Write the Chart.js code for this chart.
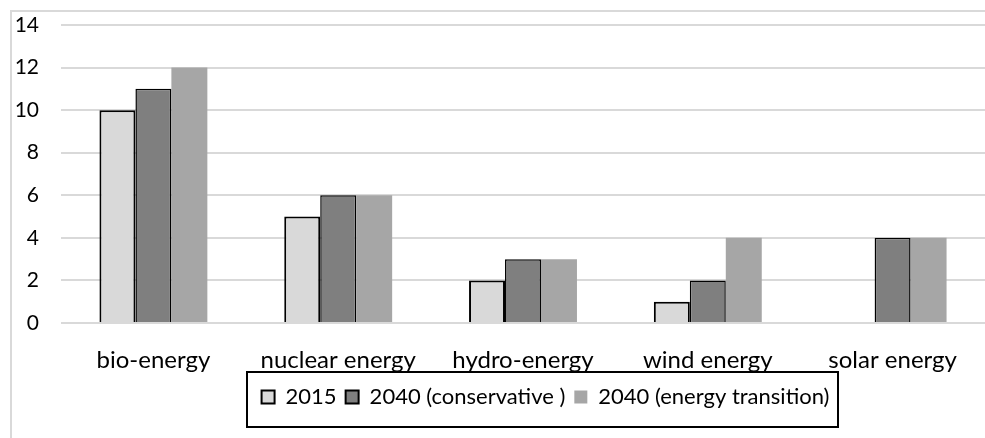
<!DOCTYPE html>
<html>
<head>
  <script src="https://cdn.jsdelivr.net/npm/chart.js@4.4.0/dist/chart.umd.min.js"></script>
  <style>
    body { margin: 0; background: #fff; }
    .chart-box { position: relative; width: 985px; height: 438px; }
  </style>
</head>
<body>
  <div class="chart-box">
    <canvas id="myChart"></canvas>
  </div>
  <script type="text/javascript">
    // data
    var categories = ['bio-energy', 'nuclear energy', 'hydro-energy', 'wind energy', 'solar energy'];
    var seriesNames = ['2015', '2040 (conservative )', '2040 (energy transition)'];
    var values2015 = [10, 5, 2, 1, 0];
    var valuesConservative = [11, 6, 3, 2, 4];
    var valuesTransition = [12, 6, 3, 4, 4];
    var yTicks = [0, 2, 4, 6, 8, 10, 12, 14];

    var font = 'Lato, "Liberation Sans", sans-serif';

    // grey frame (top + left), legend shifted right and boxed
    var framePlugin = {
      id: 'frame',
      afterLayout: function(chart) {
        chart.legend.left += 53;
        chart.legend.right += 53;
      },
      beforeDraw: function(chart) {
        var ctx = chart.ctx;
        ctx.save();
        ctx.strokeStyle = '#d9d9d9';
        ctx.lineWidth = 2;
        ctx.beginPath();
        ctx.moveTo(11, chart.height);
        ctx.lineTo(11, 11);
        ctx.lineTo(chart.width, 11);
        ctx.stroke();
        ctx.restore();
      },
      afterDraw: function(chart) {
        var boxes = chart.legend.legendHitBoxes;
        if (!boxes || !boxes.length) return;
        var left = Math.min.apply(null, boxes.map(function(b) { return b.left; }));
        var right = Math.max.apply(null, boxes.map(function(b) { return b.left + b.width; }));
        var top = boxes[0].top;
        var h = boxes[0].height;
        var ctx = chart.ctx;
        ctx.save();
        ctx.strokeStyle = '#000';
        ctx.lineWidth = 2;
        ctx.strokeRect(Math.round(left) - 15, Math.round(top) - 14, Math.round(right - left) + 23, Math.round(h) + 33);
        ctx.restore();
      }
    };

    var ctx = document.getElementById('myChart').getContext('2d');
    var chart = new Chart(ctx, {
      type: 'bar',
      data: {
        labels: categories,
        datasets: [{
            label: seriesNames[0],
            data: values2015,
            backgroundColor: '#d9d9d9',
            borderColor: '#000',
            borderWidth: 2,
            borderSkipped: 'bottom'
          },
          {
            label: seriesNames[1],
            data: valuesConservative,
            backgroundColor: '#7f7f7f',
            borderColor: '#000',
            borderWidth: 1.5,
            borderSkipped: 'bottom'
          },
          {
            label: seriesNames[2],
            data: valuesTransition,
            backgroundColor: '#a6a6a6',
            borderWidth: 0
          }
        ]
      },
      plugins: [framePlugin],
      options: {
        responsive: true,
        maintainAspectRatio: false,
        animation: false,
        layout: {
          padding: { top: 25, right: 0, bottom: 20, left: 0 }
        },
        datasets: {
          bar: { categoryPercentage: 0.584, barPercentage: 1 }
        },
        scales: {
          x: {
            grid: { display: false },
            border: { display: false },
            afterFit: function(scale) { scale.height = 54; },
            ticks: {
              color: '#000',
              font: { family: font, size: 24 },
              padding: 15,
              maxRotation: 0
            }
          },
          y: {
            min: 0,
            max: 14,
            afterBuildTicks: function(scale) {
              scale.ticks = yTicks.map(function(v) { return { value: v }; });
            },
            afterFit: function(scale) {
              scale.width = 61;
              scale.paddingTop = 0;
              scale.paddingBottom = 0;
            },
            grid: { color: '#d9d9d9', lineWidth: 2, drawTicks: false },
            border: { display: false },
            ticks: {
              color: '#000',
              font: { family: font, size: 21 },
              padding: 22
            }
          }
        },
        plugins: {
          tooltip: { enabled: false },
          legend: {
            position: 'bottom',
            labels: {
              color: '#000',
              font: { family: font, size: 22 },
              boxWidth: 13,
              boxHeight: 13,
              padding: 9,
              generateLabels: function(chart) {
                return chart.data.datasets.map(function(ds, i) {
                  return {
                    text: ds.label,
                    fillStyle: ds.backgroundColor,
                    strokeStyle: i < 2 ? '#000' : ds.backgroundColor,
                    lineWidth: i < 2 ? 2 : 0,
                    fontColor: '#000',
                    datasetIndex: i
                  };
                });
              }
            }
          }
        }
      }
    });
  </script>
</body>
</html>
